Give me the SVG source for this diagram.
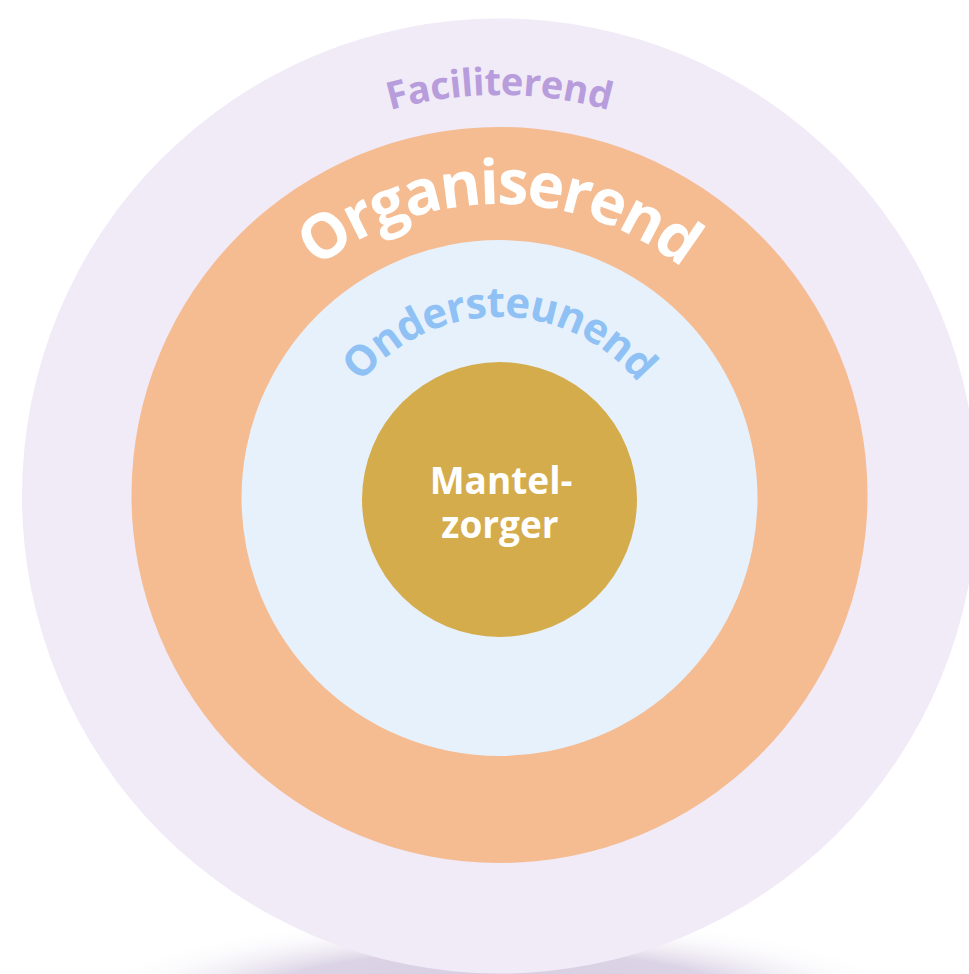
<svg xmlns="http://www.w3.org/2000/svg" width="969" height="974" viewBox="0 0 969 974">
<defs>
<radialGradient id="shadow" cx="0.5" cy="0.5" r="0.5">
<stop offset="0" stop-color="#d2c8de"/>
<stop offset="0.6" stop-color="#dcd4e6"/>
<stop offset="1" stop-color="#ffffff" stop-opacity="0"/>
</radialGradient>
<path id="arcF" d="M 98.5 496 A 401 401 0 0 1 900.5 496"/>
<path id="arcO" d="M 207.5 496 A 292 292 0 0 1 791.5 496"/>
<path id="arcS" d="M 320.5 496 A 179 179 0 0 1 678.5 496"/>
</defs>
<style>
.lbl{font-family:"Open Sans","Noto Sans",sans-serif;font-weight:700;text-anchor:middle}
</style>
<rect width="969" height="974" fill="#ffffff"/>
<ellipse cx="498" cy="1005" rx="420" ry="90" fill="url(#shadow)"/>
<g id="faciliterend">
<circle cx="499.5" cy="496" r="477.5" fill="#f1eaf7"/>
<text class="lbl" font-size="38" fill="#b89ddc"><textPath href="#arcF" startOffset="50%" textLength="222" lengthAdjust="spacing">Faciliterend</textPath></text>
</g>
<g id="organiserend">
<circle cx="499.5" cy="495" r="368" fill="#f5bb91"/>
<text class="lbl" font-size="62" fill="#ffffff"><textPath href="#arcO" startOffset="50%" textLength="395" lengthAdjust="spacing">Organiserend</textPath></text>
</g>
<g id="ondersteunend">
<circle cx="499.5" cy="498" r="258" fill="#e6f1fc"/>
<text class="lbl" font-size="42" fill="#8fc1f5"><textPath href="#arcS" startOffset="50%" textLength="318" lengthAdjust="spacing">Ondersteunend</textPath></text>
</g>
<g id="mantelzorger">
<circle cx="499.5" cy="499.5" r="137.5" fill="#d4ac4c"/>
<text class="lbl" font-size="37" fill="#ffffff"><tspan x="501" y="494">Mantel-</tspan><tspan x="500" y="538">zorger</tspan></text>
</g>
<g id="connectors"/>
</svg>
